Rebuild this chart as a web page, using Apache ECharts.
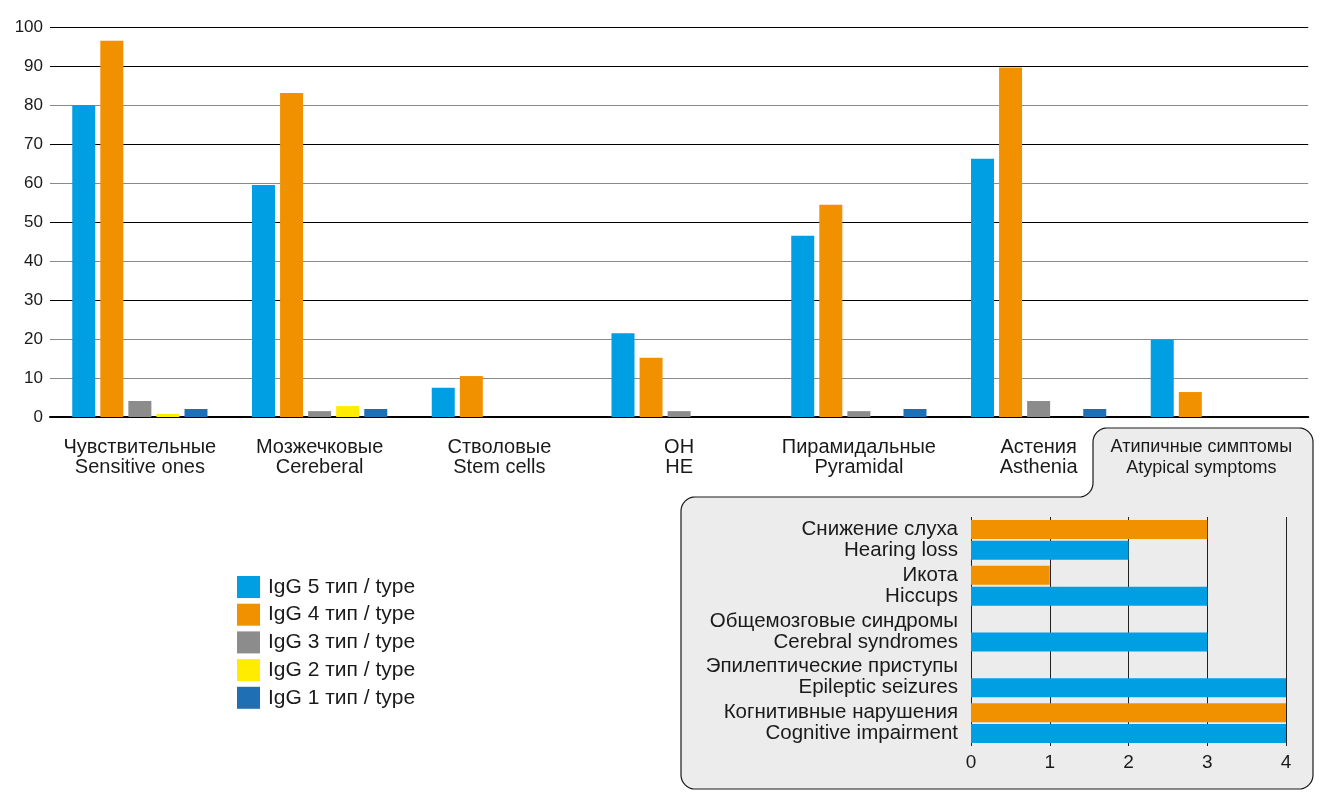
<!DOCTYPE html>
<html>
<head>
<meta charset="utf-8">
<script src="https://cdn.jsdelivr.net/npm/echarts@6/dist/echarts.min.js"></script>
<style>html,body{margin:0;padding:0;background:#fff}#c{width:1329px;height:805px}</style>
</head>
<body>
<div id="c"></div>
<script>
// ---- data ----
var groupsRu = ['Чувствительные', 'Мозжечковые', 'Стволовые', 'ОН', 'Пирамидальные', 'Астения', 'Атипичные симптомы'];
var groupsEn = ['Sensitive ones', 'Cereberal', 'Stem cells', 'HE', 'Pyramidal', 'Asthenia', 'Atypical symptoms'];
var seriesNames = ['IgG 5 тип / type', 'IgG 4 тип / type', 'IgG 3 тип / type', 'IgG 2 тип / type', 'IgG 1 тип / type'];
var igg5 = [80.0, 59.5, 7.5, 21.5, 46.5, 66.2, 19.9];
var igg4 = [96.5, 83.1, 10.5, 15.2, 54.4, 89.6, 6.4];
var igg3 = [4.1, 1.5, 0, 1.5, 1.5, 4.1, 0];
var igg2 = [0.8, 2.8, 0, 0, 0, 0, 0];
var igg1 = [2.05, 2.05, 0, 0, 2.05, 2.05, 0];
var yTicks = [0, 10, 20, 30, 40, 50, 60, 70, 80, 90, 100];

var symptomsRu = ['Снижение слуха', 'Икота', 'Общемозговые синдромы', 'Эпилептические приступы', 'Когнитивные нарушения'];
var symptomsEn = ['Hearing loss', 'Hiccups', 'Cerebral syndromes', 'Epileptic seizures', 'Cognitive impairment'];
var atypIgg4 = [3, 1, 0, 0, 4];
var atypIgg5 = [2, 3, 3, 4, 4];
var atypTicks = [0, 1, 2, 3, 4];

// ---- styles ----
var colors = ['#009fe3', '#f29100', '#8c8c8c', '#ffec00', '#1f6fb4'];
var FONT2 = '"Liberation Sans", "Open Sans", sans-serif';
var TXT = '#1a1a1a';
var gridColors = ['#000', '#8a8a8a', '#8a8a8a', '#000', '#8a8a8a', '#000', '#8a8a8a', '#000', '#8a8a8a', '#000', '#000'];

// decorative panel outline (rounded body + tab)
function arc(pts, cx, cy, r, a0, a1) {
  var n = 10;
  for (var k = 0; k <= n; k++) {
    var a = (a0 + (a1 - a0) * k / n) * Math.PI / 180;
    pts.push([cx + r * Math.cos(a), cy + r * Math.sin(a)]);
  }
}
function panelPoints() {
  var L = 681, T = 497, R = 1313, B = 789, TL = 1093, TT = 428, r = 14;
  var p = [];
  arc(p, L + r, T + r, r, 180, 270);
  arc(p, TL - r, T - r, r, 90, 0);
  arc(p, TL + r, TT + r, r, 180, 270);
  arc(p, R - r, TT + r, r, 270, 360);
  arc(p, R - r, B - r, r, 0, 90);
  arc(p, L + r, B - r, r, 90, 180);
  return p;
}

var chart = echarts.init(document.getElementById('c'), null, {renderer: 'canvas'});

var mainData = [igg5, igg4, igg3, igg2, igg1];
var series = mainData.map(function (d, i) {
  return {
    name: seriesNames[i], type: 'bar', xAxisIndex: 0, yAxisIndex: 0,
    data: d, barWidth: 23, barGap: '22%',
    itemStyle: {color: colors[i]}, z: 3
  };
});
series.push({
  name: 'atyp4', type: 'bar', xAxisIndex: 1, yAxisIndex: 1, data: atypIgg4,
  barWidth: 19, barGap: '10%', itemStyle: {color: colors[1]}, z: 3
});
series.push({
  name: 'atyp5', type: 'bar', xAxisIndex: 1, yAxisIndex: 1, data: atypIgg5,
  barWidth: 19, barGap: '10%', itemStyle: {color: colors[0]}, z: 3
});

chart.setOption({
  animation: false,
  backgroundColor: '#fff',
  textStyle: {fontFamily: FONT2},
  graphic: [{
    type: 'polygon', z: -1, silent: true,
    shape: {points: panelPoints()},
    style: {fill: '#ececec', stroke: '#1a1a1a', lineWidth: 1.2}
  }],
  legend: {
    data: seriesNames, orient: 'vertical', left: 237, top: 576,
    itemWidth: 23, itemHeight: 22, itemGap: 5.7, icon: 'rect', padding: 0,
    textStyle: {fontSize: 21, color: TXT, fontFamily: FONT2, padding: [0, 0, 0, 3]}
  },
  grid: [
    {left: 50, right: 19, top: 27, bottom: 388, containLabel: false},
    {left: 971, right: 43, top: 517, height: 229, containLabel: false}
  ],
  xAxis: [{
    type: 'category', gridIndex: 0, data: groupsRu,
    axisLine: {show: true, lineStyle: {color: '#000', width: 2}},
    axisTick: {show: false},
    axisLabel: {
      interval: 0, margin: 20, fontSize: 20, lineHeight: 20, color: TXT, fontFamily: FONT2,
      formatter: function (v, i) {
        if (i === 6) return '{tab|' + groupsRu[i] + '}\n{tab|' + groupsEn[i] + '}';
        return groupsRu[i] + '\n' + groupsEn[i];
      },
      rich: {tab: {fontSize: 18, lineHeight: 21, color: TXT, padding: [0, 34, 0, 0], fontFamily: FONT2}}
    }
  }, {
    type: 'value', gridIndex: 1, min: atypTicks[0], max: atypTicks[atypTicks.length - 1], interval: 1,
    axisLine: {show: false}, axisTick: {show: false},
    axisLabel: {margin: 7, fontSize: 19, color: TXT, fontFamily: FONT2},
    splitLine: {show: true, lineStyle: {color: '#222', width: 1}}
  }],
  yAxis: [{
    type: 'value', gridIndex: 0, min: yTicks[0], max: yTicks[yTicks.length - 1], interval: 10,
    axisLine: {show: false}, axisTick: {show: false},
    axisLabel: {margin: 7, fontSize: 17, color: TXT, fontFamily: FONT2},
    splitLine: {show: true, lineStyle: {color: gridColors, width: 1.2}}
  }, {
    type: 'category', gridIndex: 1, data: symptomsRu, inverse: true,
    axisLine: {show: false}, axisTick: {show: false},
    axisLabel: {
      interval: 0, margin: 13, fontSize: 20.5, lineHeight: 21, color: TXT, fontFamily: FONT2,
      formatter: function (v, i) { return symptomsRu[i] + '\n' + symptomsEn[i]; }
    }
  }],
  series: series
});
</script>
</body>
</html>
